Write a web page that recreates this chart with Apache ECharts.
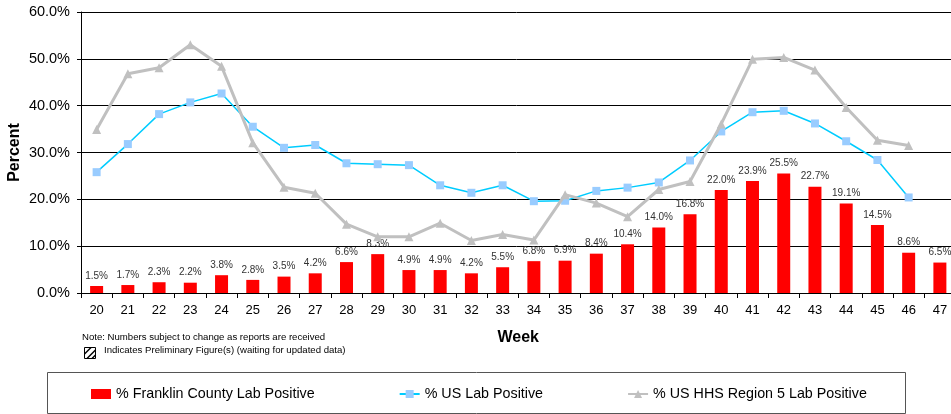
<!DOCTYPE html>
<html>
<head>
<meta charset="utf-8">
<script src="https://cdn.jsdelivr.net/npm/echarts@6/dist/echarts.min.js"></script>
<style>
html,body{margin:0;padding:0;background:#fff;}
#chart{width:951px;height:414px;}
</style>
</head>
<body>
<div id="chart"></div>
<script>
const weeks = ['20','21','22','23','24','25','26','27','28','29','30','31','32','33','34','35','36','37','38','39','40','41','42','43','44','45','46','47'];
const franklin = [1.5,1.7,2.3,2.2,3.8,2.8,3.5,4.2,6.6,8.3,4.9,4.9,4.2,5.5,6.8,6.9,8.4,10.4,14.0,16.8,22.0,23.9,25.5,22.7,19.1,14.5,8.6,6.5];
const usLab = [25.8,31.8,38.2,40.7,42.6,35.5,31.0,31.6,27.7,27.5,27.3,23.0,21.4,23.0,19.6,19.7,21.8,22.5,23.6,28.3,34.5,38.6,38.9,36.2,32.4,28.4,20.4,null];
const region5 = [34.9,46.8,48.1,53.0,48.4,32.1,22.6,21.3,14.7,12.0,12.0,14.9,11.2,12.5,11.3,21.0,19.2,16.3,22.1,23.8,36.1,49.9,50.3,47.6,39.6,32.6,31.5,null];
const yTicks = [0,10,20,30,40,50,60];

const FONT = "'Liberation Sans', Arial, sans-serif";
const chart = echarts.init(document.getElementById('chart'), null, {renderer:'canvas'});
chart.setOption({
  animation:false,
  backgroundColor:'#fff',
  textStyle:{fontFamily:FONT},
  grid:{left:81, right:-4.5, top:12, bottom:121, containLabel:false, outerBoundsMode:'none'},
  xAxis:{
    type:'category', data:weeks, boundaryGap:true,
    axisLine:{lineStyle:{color:'#000',width:1}},
    axisTick:{show:true, length:5, alignWithLabel:false, lineStyle:{color:'#000'}},
    axisLabel:{color:'#000', fontSize:13, fontFamily:FONT, margin:11, interval:0},
    name:'Week', nameLocation:'middle', nameGap:37, nameMoveOverlap:false,
    nameTextStyle:{fontSize:16, fontWeight:'bold', color:'#000', fontFamily:FONT, padding:[0,0,0,0]}
  },
  yAxis:{
    type:'value', min:yTicks[0], max:yTicks[yTicks.length-1], interval:10,
    axisLine:{show:true, lineStyle:{color:'#000',width:1}},
    axisTick:{show:true, length:4, lineStyle:{color:'#000'}},
    splitLine:{show:true, lineStyle:{color:'#000',width:1}},
    axisLabel:{color:'#000', fontSize:14.5, fontFamily:FONT, margin:11, formatter:v=>v.toFixed(1)+'%'},
    name:'Percent', nameLocation:'middle', nameGap:58, nameRotate:90, nameMoveOverlap:false,
    nameTextStyle:{fontSize:16, fontWeight:'bold', color:'#000', fontFamily:FONT}
  },
  legend:{
    left:91, top:387, padding:0, itemWidth:20, itemHeight:10, itemGap:84,
    textStyle:{fontSize:14.3, color:'#000', fontFamily:FONT},
    data:[
      {name:'% Franklin County Lab Positive', icon:'rect'},
      {name:'% US Lab Positive'},
      {name:'% US HHS Region 5 Lab Positive'}
    ]
  },
  series:[
    {name:'% Franklin County Lab Positive', type:'bar', data:franklin, barWidth:13,
     itemStyle:{color:'#FF0000'},
     label:{show:true, position:'top', distance:5, fontSize:10, color:'#333', fontFamily:FONT,
            formatter:p=>p.value.toFixed(1)+'%'}},
    {name:'% US Lab Positive', type:'line', data:usLab, symbol:'rect', symbolSize:8,
     lineStyle:{color:'#00CCFF', width:1.5}, itemStyle:{color:'#99CCFF'}, z:3},
    {name:'% US HHS Region 5 Lab Positive', type:'line', data:region5, symbol:'triangle', symbolSize:9,
     lineStyle:{color:'#C0C0C0', width:3}, itemStyle:{color:'#C0C0C0'}, z:4}
  ],
  graphic:[
    {type:'rect', shape:{x:47.5, y:372.5, width:858, height:41}, style:{fill:'none', stroke:'#555', lineWidth:1}, z:-1},
    {type:'text', left:82, top:332, style:{text:'Note: Numbers subject to change as reports are received', font:"9.6px "+FONT, fill:'#000'}},
    {type:'text', left:104, top:345, style:{text:'Indicates Preliminary Figure(s) (waiting for updated data)', font:"9.6px "+FONT, fill:'#000'}},
    {type:'group', left:82, top:345, children:[
      {type:'rect', shape:{x:0.5, y:0.5, width:11, height:11}, style:{fill:'#fff', stroke:'#000', lineWidth:1}},
      {type:'line', shape:{x1:0.5, y1:7, x2:7, y2:0.5}, style:{stroke:'#000', lineWidth:1.5}},
      {type:'line', shape:{x1:3, y1:11.5, x2:11.5, y2:3}, style:{stroke:'#000', lineWidth:1.5}},
      {type:'line', shape:{x1:8, y1:11.5, x2:11.5, y2:8}, style:{stroke:'#000', lineWidth:1.5}}
    ]}
  ]
});
</script>
</body>
</html>
